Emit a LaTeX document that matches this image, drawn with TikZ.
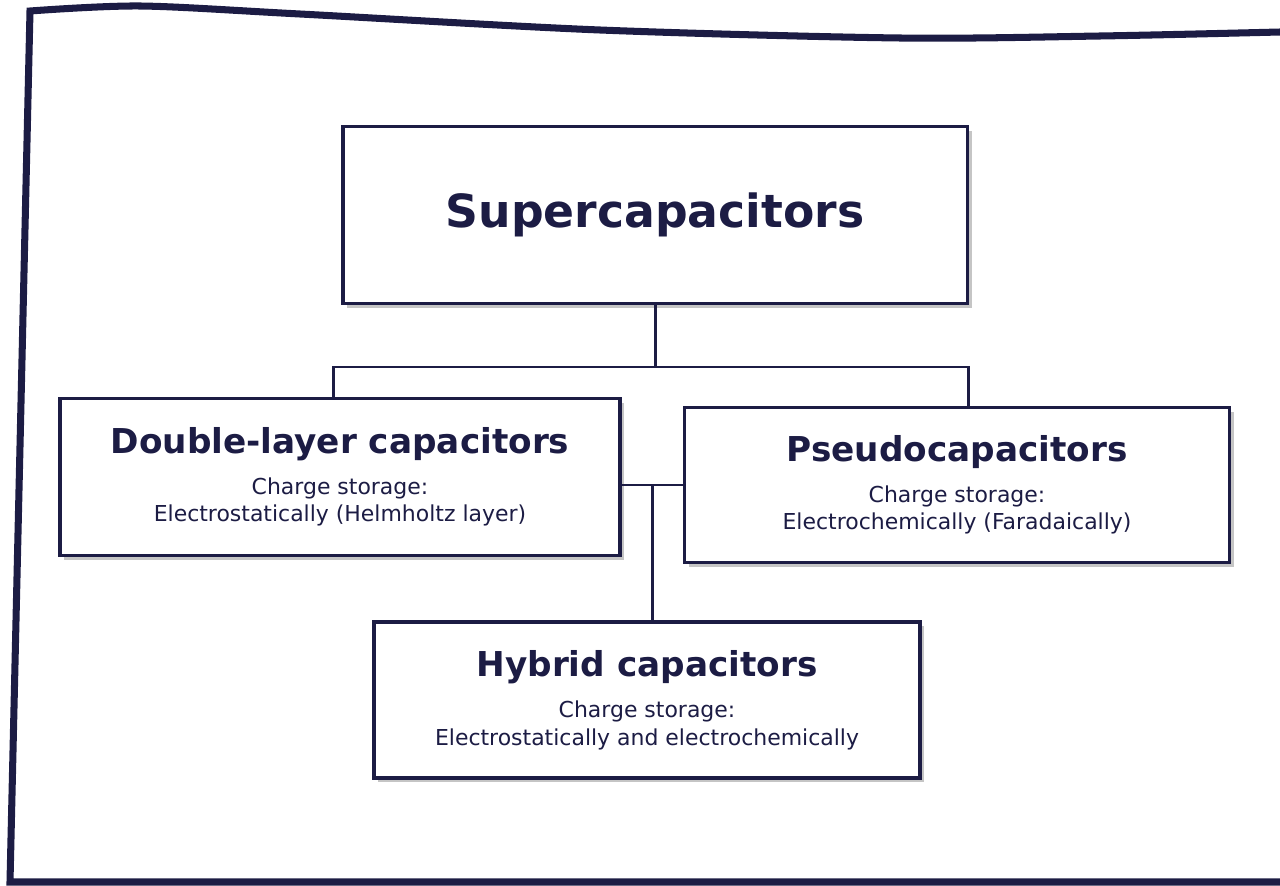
\documentclass[tikz,border=0pt]{standalone}
\usepackage{fontspec}
\setmainfont{DejaVu Sans}
\usetikzlibrary{shadows}
\definecolor{ink}{RGB}{28,28,68}
\newcommand{\titlefont}{\fontsize{19.5}{23}\selectfont\bfseries}
\begin{document}
\begin{tikzpicture}[x=0.02cm,y=-0.02cm,
  capbox/.style={draw=ink, line width=2.2pt, fill=white, align=center, text=ink,
    font=\fontsize{12.5}{15.5}\selectfont,
    drop shadow={fill=black!45, shadow xshift=2.5pt, shadow yshift=-2.5pt}},
  link/.style={draw=ink, line width=1.7pt},
  frame/.style={draw=ink, line width=4pt}]
\useasboundingbox (0,0) rectangle (1280,885);
\draw[frame] plot[smooth] coordinates {(1280,32) (1100,36) (900,38) (600,30) (300,14) (140,6) (30,11)}
  -- (10,882) -- (1280,882);
\node[capbox, minimum width=12.5cm, minimum height=3.54cm, font=\fontsize{26}{30}\selectfont\bfseries] (top) at (655,215) {Supercapacitors};
\node[capbox, minimum width=11.2cm, minimum height=3.14cm] (dlc) at (340,477) {{\titlefont Double-layer capacitors}\\[8pt] Charge storage:\\ Electrostatically (Helmholtz layer)};
\node[capbox, minimum width=10.9cm, minimum height=3.1cm] (pc) at (957,485) {{\titlefont Pseudocapacitors}\\[8pt] Charge storage:\\ Electrochemically (Faradaically)};
\node[capbox, minimum width=10.92cm, minimum height=3.12cm] (hyb) at (647,700) {{\titlefont Hybrid capacitors}\\[8pt] Charge storage:\\ Electrostatically and electrochemically};
\coordinate (split) at (655,367);
\coordinate (mid) at (652,485);
\draw[link] (top.south) -- (split);
\draw[link] ([xshift=-0.14cm]dlc.north) |- (split) -| ([xshift=0.22cm]pc.north);
\draw[link] (dlc.east |- mid) -- (pc.west |- mid);
\draw[link] (mid) -- (mid |- hyb.north);
\end{tikzpicture}
\end{document}
